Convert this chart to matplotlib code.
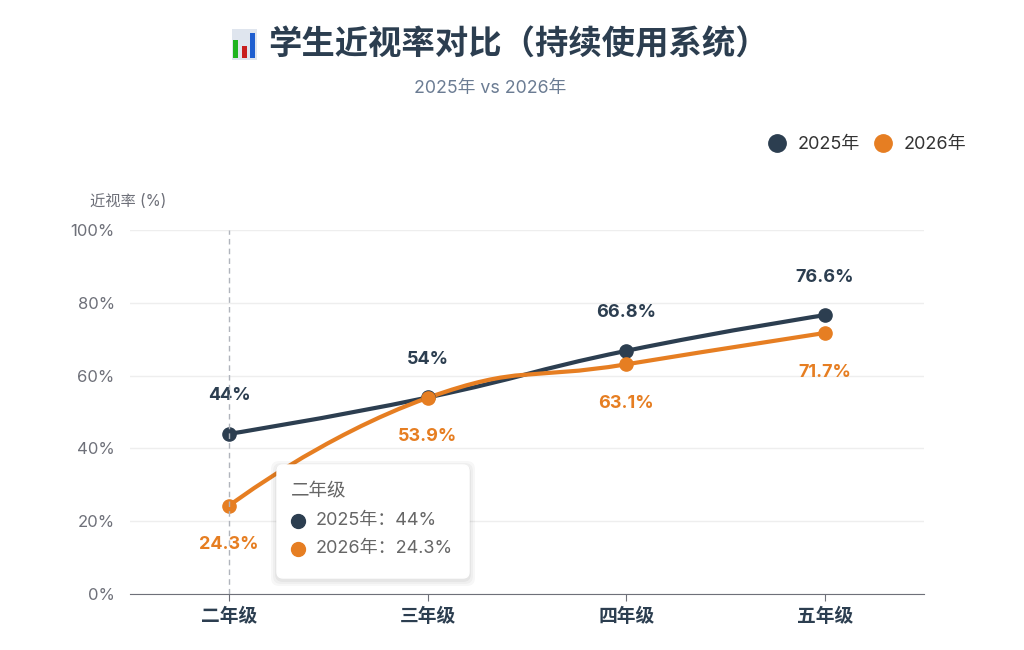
import matplotlib
matplotlib.use('Agg')
import matplotlib.pyplot as plt
import numpy as np
from matplotlib.lines import Line2D
from matplotlib.patches import FancyBboxPatch, Rectangle
from matplotlib.path import Path
from matplotlib.patches import PathPatch

plt.rcParams['font.family'] = ['Inter', 'Noto Sans CJK SC', 'DejaVu Sans']

GRADES = ['二年级', '三年级', '四年级', '五年级']
SERIES_NAMES = ['2025年', '2026年']
RATE_2025 = [44, 54, 66.8, 76.6]
RATE_2026 = [24.3, 53.9, 63.1, 71.7]
Y_TICKS = [0, 20, 40, 60, 80, 100]

DARK = '#2c3e50'
ORANGE = '#e67e22'
W, H = 1024, 650


def fig_in(x, y):
    # pixel (from top-left) -> inches for dpi_scale_trans
    return x / 100.0, (H - y) / 100.0


def echarts_smooth(pts, smooth=0.5):
    # port of echarts poly smoothing, works in display coords
    verts = [tuple(pts[0])]
    codes = [Path.MOVETO]
    cpx0, cpy0 = pts[0]
    n = len(pts)
    for i in range(1, n):
        x, y = pts[i]
        px_, py_ = pts[i - 1]
        if i + 1 >= n:
            cpx1, cpy1 = x, y
            ncx, ncy = x, y
        else:
            nx, ny = pts[i + 1]
            vx, vy = nx - px_, ny - py_
            lp = np.hypot(x - px_, y - py_)
            ln = np.hypot(nx - x, ny - y)
            r = ln / (ln + lp)
            ncx = x + vx * smooth * r
            ncy = y + vy * smooth * r
            ncx = max(min(ncx, max(nx, x)), min(nx, x))
            ncy = max(min(ncy, max(ny, y)), min(ny, y))
            vx, vy = ncx - x, ncy - y
            cpx1 = x - vx * lp / ln
            cpy1 = y - vy * lp / ln
            cpx1 = max(min(cpx1, max(px_, x)), min(px_, x))
            cpy1 = max(min(cpy1, max(py_, y)), min(py_, y))
            vx, vy = x - cpx1, y - cpy1
            ncx = x + vx * ln / lp
            ncy = y + vy * ln / lp
        verts += [(cpx0, cpy0), (cpx1, cpy1), (x, y)]
        codes += [Path.CURVE4] * 3
        cpx0, cpy0 = ncx, ncy
    return np.array(verts), codes


def main():
    fig = plt.figure(figsize=(10.24, 6.5), dpi=100)
    ax = fig.add_axes([130 / W, 56 / H, 794 / W, 364 / H])
    ax.set_xlim(-0.5, len(GRADES) - 0.5)
    ax.set_ylim(0, 100)

    ax.set_yticks(Y_TICKS)
    ax.set_yticklabels(['%d%%' % v for v in Y_TICKS], color='#6e7079', fontsize=12)
    ax.set_xticks(range(len(GRADES)))
    ax.set_xticklabels(GRADES, color=DARK, fontsize=13.5, fontweight='bold')
    ax.tick_params(axis='y', length=0, pad=11)
    ax.tick_params(axis='x', length=5, color='#6e7079', pad=5)
    ax.grid(axis='y', color='#eeeeee', linewidth=1)
    ax.set_axisbelow(True)
    for s in ['top', 'right', 'left']:
        ax.spines[s].set_visible(False)
    ax.spines['bottom'].set_color('#6e7079')

    # hover pointer line
    ax.axvline(0, color='#b0b4bc', linestyle=(0, (4, 3)), linewidth=1, zorder=5)

    xs = np.arange(len(GRADES))
    for vals, color, off in [(RATE_2025, DARK, 38), (RATE_2026, ORANGE, -39)]:
        disp = ax.transData.transform(np.column_stack([xs, vals]))
        verts, codes = echarts_smooth(disp)
        data_verts = ax.transData.inverted().transform(verts)
        ax.add_patch(PathPatch(Path(data_verts, codes), fill=False,
                               edgecolor=color, linewidth=3, zorder=3,
                               capstyle='round', joinstyle='round'))
        ax.plot(xs, vals, 'o', color=color, markersize=9.5, zorder=4)
        for x, v in zip(xs, vals):
            ax.annotate('%g%%' % v, (x, v), xytext=(0, off * 0.72),
                        textcoords='offset points', ha='center', va='center',
                        color=color, fontsize=13, fontweight='bold')

    # titles
    fig.text(268 / W, 1 - 45 / H, '学生近视率对比（持续使用系统）', fontsize=24,
             fontweight='bold', color=DARK, ha='left', va='center')
    fig.text(490 / W, 1 - 88 / H, '2025年 vs 2026年', fontsize=12.8,
             color='#6b7c93', ha='center', va='center')
    fig.text(90 / W, 1 - 201 / H, '近视率 (%)', fontsize=11,
             color='#6e7079', ha='left', va='center')

    # bar chart icon
    t = fig.dpi_scale_trans
    fig.add_artist(Rectangle(fig_in(232, 60), 0.25, 0.31, transform=t,
                             facecolor='#dfe5ee', edgecolor='none'))
    for x0, ytop, c in [(233, 40, '#1fb41f'), (242, 46, '#c81e1e'), (250, 33, '#1f5fd0')]:
        fig.add_artist(Rectangle(fig_in(x0, 58), 0.05, (58 - ytop) / 100.0,
                                 transform=t, facecolor=c, edgecolor='none'))

    # legend
    handles = [Line2D([], [], marker='o', linestyle='none', color=c, markersize=12.5)
               for c in [DARK, ORANGE]]
    fig.legend(handles, SERIES_NAMES, loc='center right',
               bbox_to_anchor=(983 / W, 1 - 145 / H), ncol=2, frameon=False,
               fontsize=13, handletextpad=0.55, columnspacing=0.7,
               labelcolor='#333333', handlelength=1.2)

    # tooltip
    for k, a in enumerate([0.03, 0.03, 0.04]):
        g = 6 - 2 * k
        x0, y0 = fig_in(277 - g, 578 + g + 2)
        fig.add_artist(FancyBboxPatch((x0, y0), (192 + 2 * g) / 100.0, (113 + 2 * g) / 100.0,
                                      boxstyle='round,pad=0,rounding_size=0.08',
                                      transform=t, facecolor='black', alpha=a,
                                      edgecolor='none'))
    x0, y0 = fig_in(277, 578)
    fig.add_artist(FancyBboxPatch((x0, y0), 1.92, 1.13,
                                  boxstyle='round,pad=0,rounding_size=0.06',
                                  transform=t, facecolor='white', edgecolor='white'))
    fig.text(291 / W, 1 - 492 / H, GRADES[0], fontsize=13.3, color='#666666',
             ha='left', va='center')
    for row, (name, vals, c) in enumerate([(SERIES_NAMES[0], RATE_2025, DARK),
                                           (SERIES_NAMES[1], RATE_2026, ORANGE)]):
        yy = 521 + 28 * row
        fig.add_artist(Line2D([fig_in(298, yy)[0]], [fig_in(298, yy)[1]], marker='o',
                              color=c, markersize=10, transform=t))
        fig.text(316 / W, 1 - yy / H, '%s：%g%%' % (name, vals[0]), fontsize=13,
                 color='#666666', ha='left', va='center')

    fig.savefig('out.png', dpi=100, facecolor='white')


if __name__ == '__main__':
    main()
